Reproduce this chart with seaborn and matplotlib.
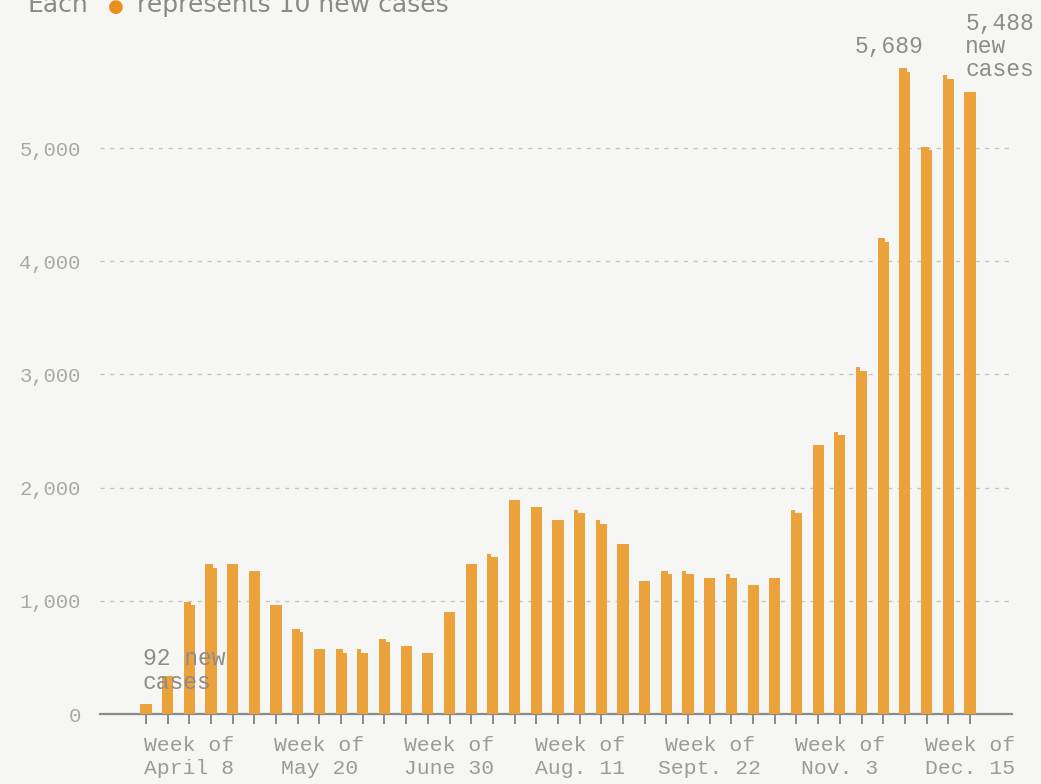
import numpy as np
import pandas as pd
import matplotlib
matplotlib.use("Agg")
import matplotlib.pyplot as plt
import seaborn as sns

# Weekly new cases
new_cases = [92, 330, 980, 1310, 1320, 1260, 960, 740, 570, 565, 550, 650,
             600, 540, 900, 1325, 1390, 1890, 1830, 1710, 1780, 1690, 1500,
             1170, 1250, 1240, 1200, 1210, 1140, 1200, 1780, 2370, 2470,
             3040, 4190, 5689, 5000, 5620, 5488]
week_labels = ["Week of\nApril 8", "Week of\nMay 20", "Week of\nJune 30",
               "Week of\nAug. 11", "Week of\nSept. 22", "Week of\nNov. 3",
               "Week of\nDec. 15"]
y_ticks = [0, 1000, 2000, 3000, 4000, 5000]
cases_per_dot = 10

ORANGE = "#eca23a"
BG = "#f6f6f4"
MONO = "Liberation Mono"

sns.set_theme(style="white")
plt.rcParams["font.family"] = ["DejaVu Sans"]

# one dot per 10 cases, stacked 3 across, filled row by row from the left
cols = 3
col_step = 0.165
recs = []
for i, v in enumerate(new_cases):
    n = int(round(v / cases_per_dot))
    k = np.arange(n)
    row = k // cols
    col = k % cols
    for r, c in zip(row, col):
        recs.append((i + (c - 1) * col_step, (r + 0.5) * cases_per_dot * cols))
dots = pd.DataFrame(recs, columns=["week", "cases"])

fig = plt.figure(figsize=(10.41, 7.84), dpi=100, facecolor=BG)
W, H = 1041, 784
ax = fig.add_axes([100 / W, 70 / H, 912 / W, 684 / H], facecolor=BG)

sns.scatterplot(data=dots, x="week", y="cases", marker="s", s=5.4,
                color=ORANGE, linewidth=0, ax=ax, zorder=3, legend=False)

ax.set_xlim(-2.12, 39.94)
ax.set_ylim(0, 684 / 0.1132)

# y axis
ax.set_yticks(y_ticks)
ax.set_yticklabels([f"{t:,}" for t in y_ticks], fontfamily=MONO,
                   fontsize=14.8, color="#a8a8a8")
ax.tick_params(axis="y", length=0, pad=14)
ax.yaxis.grid(True, color="#c4c4c4", linewidth=1.0, linestyle=(0, (3, 4)))
ax.xaxis.grid(False)

# x axis: a tick under every week, labels every sixth week
idx = np.arange(len(new_cases))
ax.set_xticks(idx)
labels = [""] * len(new_cases)
for j, lab in enumerate(week_labels):
    labels[2 + 6 * j] = lab
ax.set_xticklabels(labels, fontfamily=MONO, fontsize=15.4, color="#9a9a9a",
                   linespacing=1.28)
ax.tick_params(axis="x", length=7.5, width=1.4, color="#8a8a8a", pad=8,
               direction="out")
ax.tick_params(axis="x", bottom=True)

for s in ["top", "right", "left"]:
    ax.spines[s].set_visible(False)
ax.spines["bottom"].set_color("#8a8a8a")
ax.spines["bottom"].set_linewidth(1.6)
ax.set_xlabel("")
ax.set_ylabel("")

# value labels
ax.text(-0.15, new_cases[0] + 500, "92 new\ncases", fontfamily=MONO,
        fontsize=16.5, color="#8c8c8c", ha="left", va="top",
        linespacing=1.05, zorder=4)
ax.text(34.27, new_cases[35] + 210, f"{new_cases[35]:,}", fontfamily=MONO,
        fontsize=16.5, color="#8c8c8c", ha="center", va="center")
ax.text(37.78, new_cases[38] + 100, f"{new_cases[38]:,}\nnew\ncases",
        fontfamily=MONO, fontsize=16.5, color="#8c8c8c", ha="left",
        va="bottom", linespacing=1.0)

# heading
ty = (H - 12) / H
fig.text(28 / W, ty, "Each", fontsize=18, color="#8a8a8a", va="baseline")
fig.text(108 / W, ty, "\u25CF", fontsize=13, color="#e8901e", va="baseline")
fig.text(137 / W, ty, "represents 10 new cases", fontsize=18,
         color="#8a8a8a", va="baseline")

fig.savefig("out.png", dpi=100, facecolor=BG)
